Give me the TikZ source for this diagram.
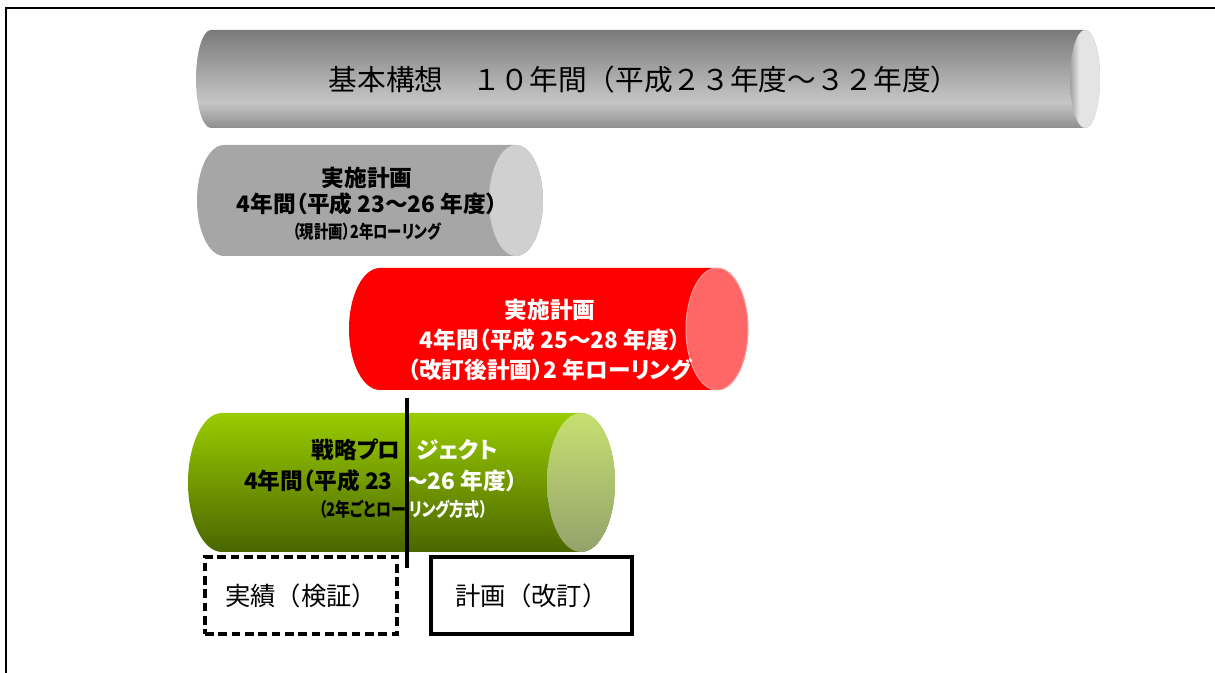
\documentclass[tikz,border=0pt]{standalone}
\usepackage{fontspec}
\usepackage{graphicx}
\usepackage{xcolor}
\newfontfamily\jpfont[CharacterWidth=AlternateProportional]{Noto Sans CJK JP}
\newfontfamily\jpplain{Noto Sans CJK JP}
\newcommand{\squeeze}[1]{\scalebox{0.8}[1]{#1}}

\definecolor{kihonTop}{HTML}{7A7A7A}
\definecolor{kihonMid}{HTML}{C6C6C6}
\definecolor{kihonLow}{HTML}{8E8E8E}
\definecolor{kihonCapL}{HTML}{A0A0A0}
\definecolor{kihonCapR}{HTML}{E4E4E4}
\definecolor{genBody}{HTML}{A6A6A6}
\definecolor{genCap}{HTML}{D0D0D0}
\definecolor{kaiBody}{HTML}{FF0000}
\definecolor{kaiCap}{HTML}{FF6666}
\definecolor{kaiEdge}{HTML}{FF9A9A}
\definecolor{senTop}{HTML}{99CC00}
\definecolor{senLow}{HTML}{4A6600}
\definecolor{senCapTop}{HTML}{C6E070}
\definecolor{senCapLow}{HTML}{94A26C}

\pgfdeclareverticalshading{kihonshade}{100bp}{color(0bp)=(kihonLow); color(25bp)=(kihonLow); color(38bp)=(kihonMid); color(75bp)=(kihonTop); color(100bp)=(kihonTop)}
\pgfdeclarehorizontalshading{kihoncap}{100bp}{color(0bp)=(kihonCapL); color(25bp)=(kihonCapL); color(40bp)=(kihonCapR); color(100bp)=(kihonCapR)}

\tikzset{
  tubetext/.style={align=center, inner sep=0pt},
  kihonlabel/.style={tubetext, font=\jpplain\fontsize{21.5}{26}\selectfont},
  genlabel/.style={tubetext, font=\jpfont\bfseries\fontsize{17}{19.5}\selectfont},
  kailabel/.style={tubetext, text=white, font=\jpfont\bfseries\fontsize{17}{22.5}\selectfont},
  senfont/.style={inner sep=0pt, font=\jpfont\bfseries\fontsize{17}{20}\selectfont},
  splitL/.style={senfont, anchor=east, text=black},
  splitR/.style={senfont, anchor=west, text=white},
  boxlabel/.style={minimum width=144pt, minimum height=57.75pt, line width=3pt,
    font=\jpplain\fontsize{19}{22}\selectfont},
  resultbox/.style={boxlabel, draw, dash pattern=on 6.5pt off 3.5pt},
  planbox/.style={boxlabel, draw, minimum width=150.75pt}
}

\begin{document}
\begin{tikzpicture}[x=0.75pt,y=0.75pt]
\useasboundingbox (0,0) rectangle (1215,-673);

% frame
\draw[line width=1.5pt] (6,-673) -- (6,-8) -- (1215,-8);

% basic plan, 10 years
\shade[shading=kihonshade]
  (211,-30) -- (1085,-30) arc[start angle=90,end angle=-90,x radius=15,y radius=49]
  -- (211,-128) arc[start angle=270,end angle=90,x radius=15,y radius=49] -- cycle;
\shade[shading=kihoncap] (1085,-79) ellipse[x radius=15,y radius=49];
\node[kihonlabel] (kihon) at (644,-80) {基本構想　１０年間（平成２３年度～３２年度）};

% current plan
\fill[genBody]
  (224,-145) -- (516,-145) arc[start angle=90,end angle=-90,x radius=27,y radius=55.5]
  -- (224,-256) arc[start angle=270,end angle=90,x radius=27,y radius=55.5] -- cycle;
\fill[genCap] (516,-200.5) ellipse[x radius=27,y radius=55.5];
\node[genlabel] (genkei) at (367,-204)
  {実施計画\\4年間（平成 23～26 年度）\\{\fontsize{13.5}{19.5}\selectfont\squeeze{（現計画）2年ローリング}}};

% revised plan
\fill[kaiBody]
  (380,-268) -- (717,-268) arc[start angle=90,end angle=-90,x radius=31,y radius=61]
  -- (380,-390) arc[start angle=270,end angle=90,x radius=31,y radius=61] -- cycle;
\filldraw[fill=kaiCap, draw=kaiEdge, line width=0.75pt] (717,-329) ellipse[x radius=31,y radius=61];
\node[kailabel] (kaitei) at (550,-340)
  {実施計画\\4年間（平成 25～28 年度）\\（改訂後計画）2 年ローリング};

% strategic project
\shade[top color=senTop, bottom color=senLow]
  (222,-413) -- (581,-413) arc[start angle=90,end angle=-90,x radius=34,y radius=69.5]
  -- (222,-552) arc[start angle=270,end angle=90,x radius=34,y radius=69.5] -- cycle;
\shade[top color=senCapTop, bottom color=senCapLow] (581,-482.5) ellipse[x radius=34,y radius=69.5];

\node[splitL] (senL1) at (401,-450) {戦略プロ};
\node[splitR] (senR1) at (416,-450) {ジェクト};
\node[splitL] (senL2) at (393,-481) {4年間（平成 23};
\node[splitR] (senR2) at (405,-481) {～26 年度）};
\node[splitL] (senL3) at (406,-509) {\fontsize{14}{16}\selectfont\squeeze{（2年ごとロー}};
\node[splitR] (senR3) at (409,-509) {\fontsize{14}{16}\selectfont\squeeze{リング方式）}};

% dividing line
\coordinate (cutTop) at (407,-398);
\coordinate (cutBot) at (407,-568);
\draw[line width=2.6pt] (cutTop) -- (cutBot);

% legend boxes
\node[resultbox] (jisseki) at (301,-595.5) {実績（検証）};
\node[planbox] (keikaku) at (531.5,-595.5) {計画（改訂）};
\end{tikzpicture}
\end{document}
